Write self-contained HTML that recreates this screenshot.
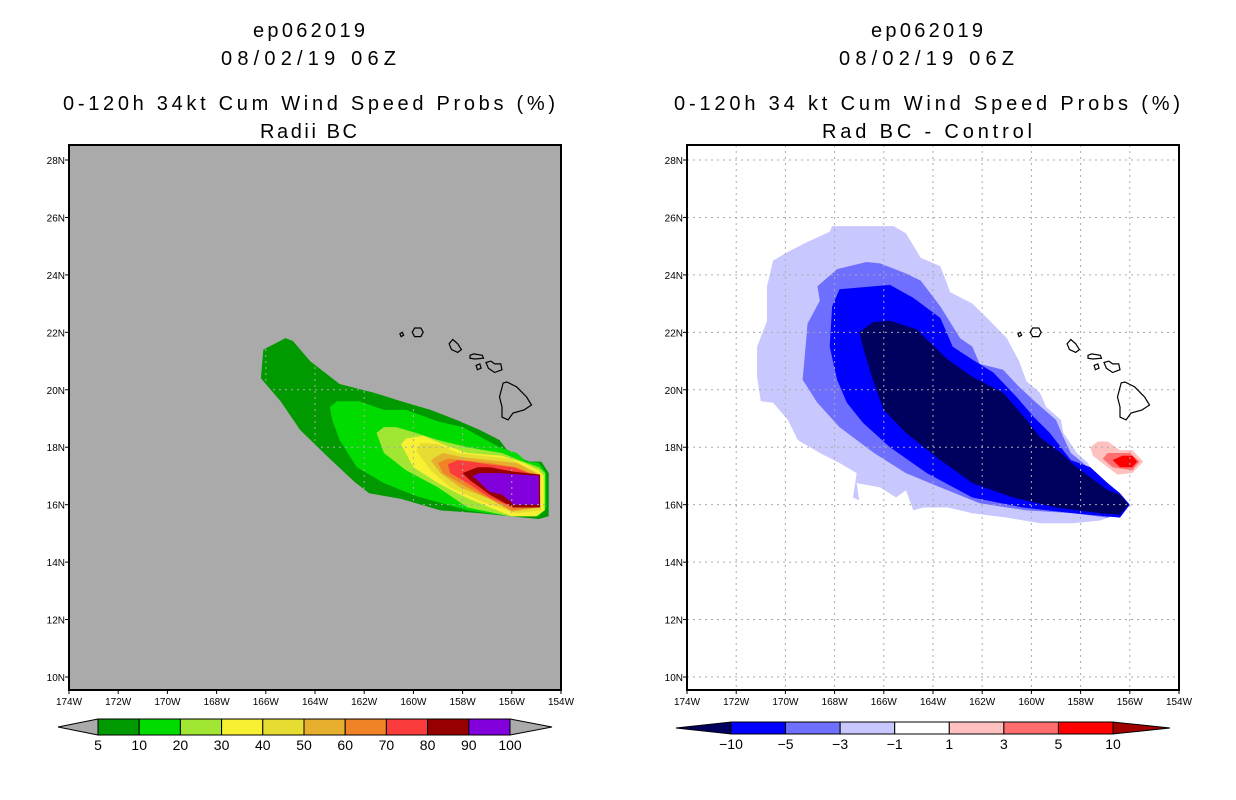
<!DOCTYPE html>
<html><head><meta charset="utf-8"><style>
html,body{margin:0;padding:0;background:#fff;width:1236px;height:800px;overflow:hidden}
svg{display:block}
text{font-family:"Liberation Sans",sans-serif;fill:#000}
</style></head><body>
<svg id="chart" width="1236" height="800" xmlns="http://www.w3.org/2000/svg">
<g id="titles">
<text x="253" y="37" font-size="20" textLength="112">ep062019</text>
<text x="221" y="65" font-size="20" textLength="175">08/02/19 06Z</text>
<text x="63" y="110" font-size="20" textLength="492">0-120h 34kt Cum Wind Speed Probs (%)</text>
<text x="260" y="138" font-size="20" textLength="97">Radii BC</text>
<text x="871" y="37" font-size="20" textLength="112">ep062019</text>
<text x="839" y="65" font-size="20" textLength="175">08/02/19 06Z</text>
<text x="674" y="110" font-size="20" textLength="506">0-120h 34 kt Cum Wind Speed Probs (%)</text>
<text x="822" y="138" font-size="20" textLength="210">Rad BC - Control</text>
</g>
</svg>
<script>
// ---- data ----
const lonTicks=[174,172,170,168,166,164,162,160,158,156,154];
const latTicks=[10,12,14,16,18,20,22,24,26,28];
const probLevels=[5,10,20,30,40,50,60,70,80,90,100];
const probColors=["#009900","#00dc00","#a0e632","#f8f032","#e6dc32","#e6af2d","#f08228","#fa3c3c","#960000","#8200dc"];
const diffLevels=[-10,-5,-3,-1,1,3,5,10];
const diffColors=["#00005f","#0000ff","#6e6eff","#c8c8ff","#ffffff","#ffc0c0","#ff6e6e","#ff0000"];
// contour polygons (lon degW, lat degN)
const prob5=[[166.1,21.4],[165.2,21.8],[164.9,21.7],[164.2,21.0],[163.0,20.2],[161.6,19.9],[160.5,19.6],[159.3,19.3],[158.1,18.9],[157.3,18.6],[156.5,18.25],[156.1,17.8],[155.3,17.5],[154.8,17.5],[154.5,17.1],[154.5,15.6],[154.9,15.5],[156.1,15.6],[157.3,15.7],[158.9,15.8],[160.5,16.2],[161.8,16.4],[162.4,16.8],[163.4,17.6],[164.6,18.6],[165.4,19.6],[166.2,20.4]];
const prob10=[[163.4,19.4],[163.1,19.6],[162.2,19.6],[161.2,19.3],[160.3,19.3],[159.0,18.9],[158.0,18.7],[156.5,18.0],[155.8,17.8],[155.4,17.5],[154.9,17.45],[154.6,17.1],[154.6,15.9],[154.9,15.6],[156.1,15.6],[157.8,15.8],[159.9,16.3],[161.2,16.75],[162.3,17.3],[163.0,18.25],[163.3,18.95]];
const prob20=[[161.5,18.5],[161.2,18.7],[160.7,18.7],[159.9,18.5],[159.0,18.25],[157.8,18.0],[156.4,17.8],[155.7,17.55],[154.9,17.3],[154.65,17.1],[154.65,15.8],[155.0,15.6],[156.1,15.6],[157.8,15.9],[159.0,16.6],[160.3,17.2],[161.2,17.8]];
const prob30=[[160.5,18.1],[160.3,18.3],[159.6,18.4],[158.8,18.1],[157.8,17.8],[156.4,17.7],[155.5,17.45],[154.9,17.2],[154.7,17.0],[154.7,15.8],[155.0,15.6],[156.0,15.6],[156.9,15.9],[158.0,16.3],[159.0,16.75],[160.0,17.3]];
const prob40=[[159.9,17.9],[159.7,18.15],[159.0,18.1],[158.2,17.8],[157.2,17.7],[156.1,17.6],[155.4,17.3],[154.9,17.1],[154.8,15.8],[155.8,15.7],[157.2,16.1],[158.5,16.6],[159.3,17.2]];
const prob50=[[159.3,17.55],[158.8,17.8],[158.0,17.65],[156.9,17.55],[155.8,17.45],[155.0,17.1],[154.9,15.9],[156.0,15.75],[156.9,16.2],[158.1,16.6],[158.9,17.1]];
const prob60=[[159.0,17.45],[158.6,17.6],[158.0,17.55],[156.9,17.45],[155.8,17.3],[155.0,17.0],[155.0,15.9],[156.0,15.8],[156.9,16.2],[158.0,16.7],[158.8,17.1]];
const prob70=[[158.6,17.4],[158.2,17.55],[157.7,17.5],[156.9,17.4],[155.95,17.3],[155.0,17.0],[155.0,15.9],[155.95,15.9],[156.9,16.25],[157.8,16.75],[158.5,17.1]];
const prob80=[[158.0,17.1],[157.4,17.3],[156.9,17.3],[155.95,17.15],[154.85,17.05],[154.85,15.9],[155.95,15.9],[156.9,16.35],[157.7,16.85]];
const prob90=[[157.6,17.0],[157.3,17.1],[156.5,17.1],[154.9,17.0],[154.9,16.0],[155.9,16.0],[156.4,16.35],[156.9,16.45]];
const diffM1=[[170.5,24.5],[169.9,24.8],[169.1,25.15],[168.2,25.5],[168.1,25.7],[165.6,25.7],[165.1,25.45],[164.5,24.6],[163.7,24.3],[163.3,23.4],[162.4,23.0],[161.8,22.5],[161.0,21.8],[160.5,21.0],[160.2,20.3],[159.65,19.9],[159.4,19.4],[158.8,18.95],[158.7,18.5],[158.15,17.8],[157.7,17.45],[157.5,17.1],[156.9,16.75],[156.3,16.05],[156.4,15.7],[157.2,15.45],[158.3,15.35],[159.65,15.35],[161.0,15.55],[162.4,15.7],[163.4,15.9],[164.4,15.9],[164.8,15.8],[165.1,16.5],[165.5,16.25],[166.15,16.6],[167.1,16.75],[167.0,16.15],[167.25,16.25],[167.1,17.1],[167.8,17.45],[168.6,17.8],[169.5,18.25],[169.9,18.95],[170.5,19.55],[171.0,19.6],[171.15,20.45],[171.15,21.5],[170.75,22.4],[170.75,23.6]];
const diffM3=[[169.1,22.3],[168.6,23.1],[168.7,23.6],[167.9,24.2],[166.7,24.45],[166.15,24.4],[165.1,24.05],[164.5,23.8],[163.7,22.9],[162.9,21.8],[162.4,21.5],[162.1,20.9],[161.15,20.7],[160.5,20.1],[159.8,19.55],[159.0,18.95],[158.7,18.35],[158.4,17.8],[157.9,17.45],[157.2,16.85],[156.8,16.6],[156.4,16.15],[156.4,15.7],[156.9,15.55],[158.3,15.7],[160.2,15.8],[162.1,16.05],[163.7,16.6],[165.1,17.1],[166.4,17.8],[167.8,18.7],[168.7,19.55],[169.3,20.35],[169.2,21.3]];
const diffM5=[[168.1,22.9],[167.8,23.5],[165.75,23.65],[164.8,23.2],[163.7,22.5],[163.2,21.5],[162.4,21.05],[161.55,20.6],[160.6,19.75],[159.9,19.05],[159.25,18.5],[158.4,17.55],[157.6,17.3],[156.9,16.75],[156.4,16.4],[156.0,16.0],[156.4,15.55],[158.3,15.7],[160.35,15.9],[162.4,16.25],[164.25,17.1],[165.75,18.0],[166.85,18.85],[167.5,19.55],[167.9,20.35],[168.2,21.5]];
const diffM10=[[167.0,22.0],[166.45,22.35],[165.75,22.4],[164.65,22.1],[164.25,21.75],[163.4,21.05],[162.4,20.45],[161.15,19.9],[160.2,18.95],[159.65,18.35],[158.8,17.8],[158.3,17.4],[157.6,16.95],[156.9,16.5],[156.4,16.35],[156.05,16.0],[156.4,15.65],[157.2,15.7],[159.0,15.9],[160.75,16.25],[162.4,16.75],[163.7,17.55],[165.1,18.5],[166.0,19.3],[166.45,20.35],[166.85,21.5]];
const diffP1=[[157.6,18.0],[157.3,18.2],[156.9,18.2],[156.4,17.9],[155.9,17.9],[155.45,17.5],[155.9,17.1],[156.5,17.05],[156.9,17.3],[157.5,17.7]];
const diffP3=[[157.1,17.6],[156.9,17.8],[156.0,17.8],[155.6,17.5],[155.9,17.2],[156.7,17.3]];
const diffP5=[[156.7,17.55],[156.3,17.7],[155.9,17.7],[155.7,17.5],[155.9,17.3],[156.4,17.3]];
// coastlines
const bigIsland=[[156.35,20.24],[156.2,20.27],[155.8,20.1],[155.4,19.75],[155.2,19.47],[155.5,19.3],[155.95,19.19],[156.15,18.95],[156.4,19.05],[156.4,19.4],[156.5,19.75]];
const kauai=[[160.05,22.0],[159.95,22.15],[159.7,22.15],[159.6,22.0],[159.7,21.85],[159.95,21.85]];
const niihau=[[160.55,21.95],[160.45,22.0],[160.4,21.9],[160.5,21.85]];
const oahu=[[158.55,21.6],[158.4,21.75],[158.2,21.6],[158.05,21.4],[158.2,21.3],[158.45,21.4]];
const molokai=[[157.7,21.2],[157.55,21.25],[157.2,21.2],[157.15,21.1],[157.5,21.07],[157.7,21.1]];
const maui=[[157.05,20.95],[156.85,21.0],[156.7,20.9],[156.45,20.9],[156.4,20.7],[156.7,20.6],[156.95,20.75]];
const lanai=[[157.45,20.85],[157.3,20.9],[157.25,20.75],[157.4,20.7]];

// ---- layout ----
const NS="http://www.w3.org/2000/svg";
const svg=document.getElementById('chart');
const P={top:145,bottom:690,w:492,lonW:174,lonE:154,latS:9.48,latN:28.46};
function xs(ox){return lon=>ox+(P.lonW-lon)/(P.lonW-P.lonE)*P.w;}
function ys(lat){return 677-(lat-10)*(517/18);}
function el(tag,attrs,parent){const e=document.createElementNS(NS,tag);for(const k in attrs)e.setAttribute(k,attrs[k]);(parent||svg).appendChild(e);return e;}
function pts(arr,x){return arr.map(p=>x(p[0]).toFixed(1)+','+ys(p[1]).toFixed(1)).join(' ');}

function panel(ox,bg,fills,name,gridAbove){
  const x=xs(ox);
  const g=el('g',{});
  
  
  const cp=el('clipPath',{id:name+'-clip'},g);
  el('rect',{x:ox,y:P.top,width:P.w,height:P.bottom-P.top},cp);
  const bgr=el('rect',{x:ox,y:P.top,width:P.w,height:P.bottom-P.top,fill:bg},g);
  
  
  const inner=el('g',{'clip-path':'url(#'+name+'-clip)'},g);
  fills.forEach(f=>{
    const pg=el('polygon',{points:pts(f.poly,x),fill:f.color},inner);
    
    
  });
  // grid
  const gg=el('g',{stroke:'#aaaaaa','stroke-width':1,'stroke-dasharray':'2,4'},inner);
  
  
  lonTicks.slice(1,-1).forEach(l=>el('line',{x1:x(l),x2:x(l),y1:P.top,y2:P.bottom},gg));
  latTicks.forEach(l=>el('line',{x1:ox,x2:ox+P.w,y1:ys(l),y2:ys(l)},gg));
  // coast
  [bigIsland,kauai,niihau,oahu,molokai,maui,lanai].forEach((isl,i)=>{
    const c=el('polygon',{points:pts(isl,x),fill:'none',stroke:'#000','stroke-width':1.2},inner);
    
    
  });
  const fr=el('rect',{x:ox,y:P.top,width:P.w,height:P.bottom-P.top,fill:'none',stroke:'#000','stroke-width':2},g);
  
  
  // ticks & labels
  lonTicks.forEach(l=>{
    el('line',{x1:x(l),x2:x(l),y1:P.bottom,y2:P.bottom+4,stroke:'#000'},g);
    const t=el('text',{x:x(l),y:P.bottom+15,'font-size':10,'text-anchor':'middle'},g);
    t.textContent=l+'W';
    
    
  });
  latTicks.forEach(l=>{
    el('line',{x1:ox-4,x2:ox,y1:ys(l),y2:ys(l),stroke:'#000'},g);
    const t=el('text',{x:ox-4,y:ys(l)+4,'font-size':10,'text-anchor':'end'},g);
    t.textContent=l+'N';
    
    
  });
}
panel(69,'#aaaaaa',[
 {poly:prob5,color:probColors[0],label:'5'},{poly:prob10,color:probColors[1],label:'10'},
 {poly:prob20,color:probColors[2],label:'20'},{poly:prob30,color:probColors[3],label:'30'},
 {poly:prob40,color:probColors[4],label:'40'},{poly:prob50,color:probColors[5],label:'50'},
 {poly:prob60,color:probColors[6],label:'60'},{poly:prob70,color:probColors[7],label:'70'},
 {poly:prob80,color:probColors[8],label:'80'},{poly:prob90,color:probColors[9],label:'90'}],'left');
panel(687,'#ffffff',[
 {poly:diffM1,color:diffColors[3],label:'m1'},{poly:diffM3,color:diffColors[2],label:'m3'},
 {poly:diffM5,color:diffColors[1],label:'m5'},{poly:diffM10,color:diffColors[0],label:'m10'},
 {poly:diffP1,color:diffColors[5],label:'p1'},{poly:diffP3,color:diffColors[6],label:'p3'},
 {poly:diffP5,color:diffColors[7],label:'p5'}],'right');

// colorbars
function colorbar(x0,x1,y0,y1,triL,triR,colors,leftTri,rightTri,labels,name){
  const g=el('g',{stroke:'#000','stroke-width':1});
  
  
  const ym=(y0+y1)/2, n=colors.length, w=(x1-x0)/n;
  const lt=el('polygon',{points:`${x0-triL},${ym} ${x0},${y0} ${x0},${y1}`,fill:leftTri},g);
  
  
  const rt=el('polygon',{points:`${x1+triR},${ym} ${x1},${y0} ${x1},${y1}`,fill:rightTri},g);
  
  
  colors.forEach((c,i)=>{
    const r=el('rect',{x:x0+i*w,y:y0,width:w,height:y1-y0,fill:c},g);
    
    
  });
  labels.forEach((l,i)=>{
    const t=el('text',{x:x0+i*w,y:y1+15,'font-size':14,'text-anchor':'middle',stroke:'none'},g);
    t.textContent=String(l).replace('-','\u2212');
    
    
  });
}
colorbar(98,510,719,735,40,42,probColors,'#aaaaaa','#aaaaaa',probLevels,'left-colorbar');
colorbar(731,1113,722,734,55,57,diffColors.slice(1),diffColors[0],'#a00000',diffLevels,'right-colorbar');
</script>
</body></html>
